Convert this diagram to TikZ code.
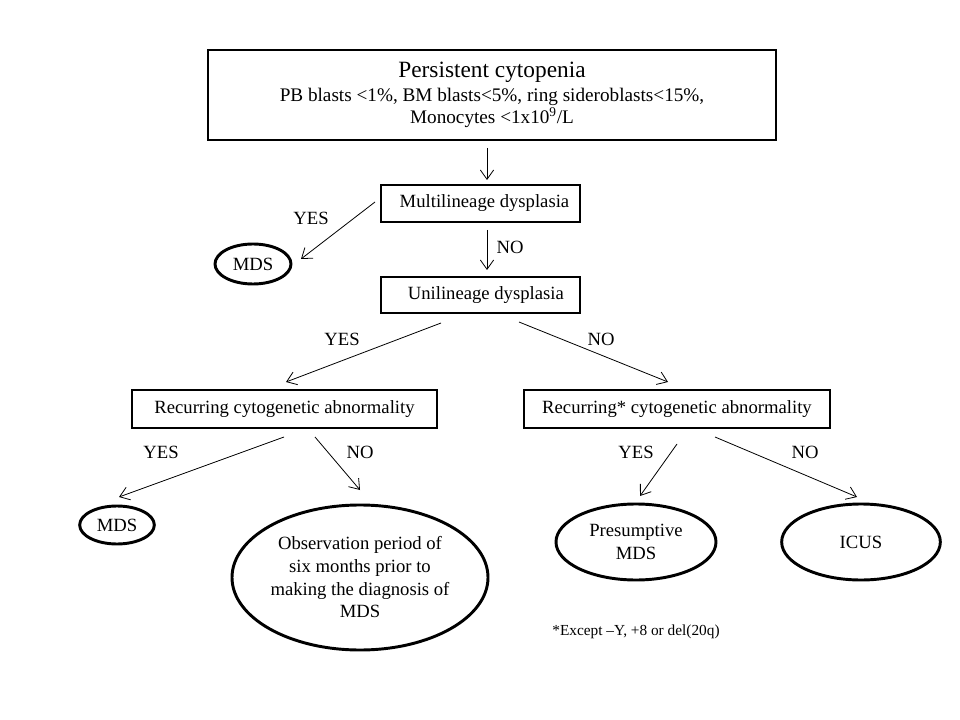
\documentclass[tikz,border=0pt]{standalone}
\usepackage{fontspec}
\setmainfont{Liberation Serif}
\usetikzlibrary{shapes.geometric,arrows.meta}
\begin{document}
\begin{tikzpicture}[x=0.75pt,y=-0.75pt,
  box/.style={draw,line width=2.2pt,inner sep=0pt,align=center,font=\fontsize{14}{17}\selectfont},
  oval/.style={draw,ellipse,line width=2.2pt,inner sep=0pt,align=center,font=\fontsize{14}{17}\selectfont},
  arr/.style={-{Straight Barb[length=7pt,width=10pt,line width=0.6pt]},line width=0.6pt},
  lab/.style={font=\fontsize{14}{16}\selectfont,inner sep=0pt}]
\useasboundingbox (0,0) rectangle (960,720);
\fill[white] (0,0) rectangle (960,720);

% boxes
\node[box,minimum width=426pt,minimum height=67.5pt] (top) at (492,95)
  {{\fontsize{17.5}{19}\selectfont Persistent cytopenia}\\[1pt]
   {\fontsize{14.4}{17}\selectfont PB blasts <1\%, BM blasts<5\%, ring sideroblasts<15\%,}\\[-1pt]
   {\fontsize{14.4}{17}\selectfont Monocytes <1x10\textsuperscript{9}/L}};
\node[box,minimum width=149.25pt,minimum height=27.75pt] (mult) at (480.5,203.5) {\hspace*{6pt}Multilineage dysplasia};
\node[box,minimum width=149.25pt,minimum height=27pt] (unil) at (480.5,295) {\hspace*{8pt}Unilineage dysplasia};
\node[box,minimum width=228.75pt,minimum height=28.5pt] (lrec) at (284.5,409) {Recurring cytogenetic abnormality};
\node[box,minimum width=229.5pt,minimum height=28.5pt] (rrec) at (677,409) {Recurring* cytogenetic abnormality};

% ovals
\node[oval,minimum width=57pt,minimum height=30pt] (mds1) at (253,264) {MDS};
\node[oval,minimum width=56pt,minimum height=28.5pt] (mds2) at (117,525) {MDS};
\node[oval,minimum width=192pt,minimum height=108.75pt] (obs) at (360,577.5)
  {Observation period of\\six months prior to\\making the diagnosis of\\MDS};
\node[oval,minimum width=120pt,minimum height=57pt] (pres) at (636,542) {Presumptive\\MDS};
\node[oval,minimum width=119pt,minimum height=57pt] (icus) at (861,542) {ICUS};

% arrow end points
\coordinate (a1s) at (487,148); \coordinate (a1e) at (487,180);
\coordinate (a2s) at (375,202); \coordinate (a2e) at (301,259);
\coordinate (a3s) at (487,230); \coordinate (a3e) at (487,270);
\coordinate (a4s) at (441,323); \coordinate (a4e) at (286,382);
\coordinate (a5s) at (519,322); \coordinate (a5e) at (668,382);
\coordinate (a6s) at (284,437); \coordinate (a6e) at (119,497);
\coordinate (a7s) at (315,437); \coordinate (a7e) at (360,490);
\coordinate (a8s) at (677,444); \coordinate (a8e) at (640,496);
\coordinate (a9s) at (715,437); \coordinate (a9e) at (857,497);

\draw[arr] (a1s) -- (a1e);
\draw[arr] (a2s) -- (a2e);
\draw[arr] (a3s) -- (a3e);
\draw[arr] (a4s) -- (a4e);
\draw[arr] (a5s) -- (a5e);
\draw[arr] (a6s) -- (a6e);
\draw[arr] (a7s) -- (a7e);
\draw[arr] (a8s) -- (a8e);
\draw[arr] (a9s) -- (a9e);

% labels
\node[lab] (l2) at (311,218) {YES};
\node[lab] (l3) at (510,247) {NO};
\node[lab] (l4) at (342,339) {YES};
\node[lab] (l5) at (601,339) {NO};
\node[lab] (l6) at (161,452) {YES};
\node[lab] (l7) at (360,452) {NO};
\node[lab] (l8) at (636,452) {YES};
\node[lab] (l9) at (805,452) {NO};

\node[inner sep=0pt,font=\fontsize{11.5}{13}\selectfont] (fn) at (636,632) {*Except --Y, +8 or del(20q)};
\end{tikzpicture}
\end{document}
